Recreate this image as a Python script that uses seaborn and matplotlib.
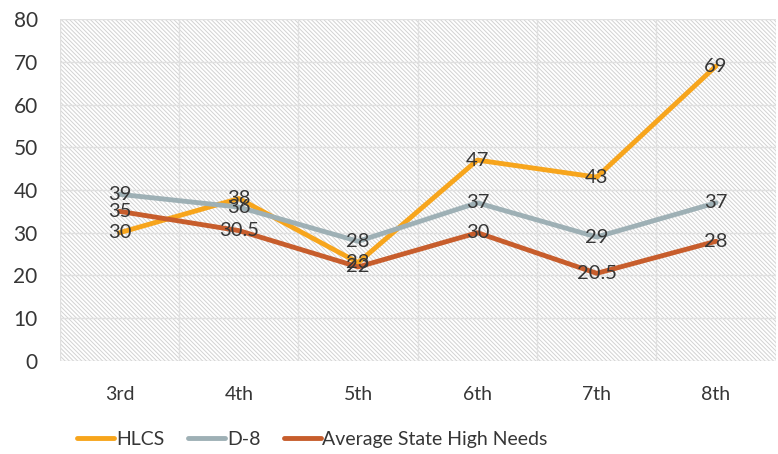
import matplotlib
matplotlib.use("Agg")
import matplotlib.pyplot as plt
from matplotlib.patches import Rectangle
import seaborn as sns
import pandas as pd

grades = ["3rd", "4th", "5th", "6th", "7th", "8th"]
hlcs = [30, 38, 23, 47, 43, 69]
d8 = [39, 36, 28, 37, 29, 37]
state_high_needs = [35, 30.5, 22, 30, 20.5, 28]

series_names = ["HLCS", "D-8", "Average State High Needs"]
colors = ["#F7A51C", "#9EB0B5", "#C75D2C"]

# long-form table for seaborn
rows = []
for name, vals in zip(series_names, [hlcs, d8, state_high_needs]):
    for g, v in zip(grades, vals):
        rows.append({"grade": g, "value": v, "series": name})
df = pd.DataFrame(rows)

sns.set_theme(style="white")
plt.rcParams["font.family"] = ["Lato", "DejaVu Sans"]
plt.rcParams["hatch.linewidth"] = 0.7
plt.rcParams["hatch.color"] = "#d2d2d2"

text_color = "#363636"

fig = plt.figure(figsize=(7.78, 4.54), dpi=100)
ax = fig.add_axes([0.077, 0.205, 0.92, 0.753])

# hatched plot background
ax.add_patch(Rectangle((0, 0), 1, 1, transform=ax.transAxes, facecolor="white",
                       edgecolor="#d2d2d2", hatch="\\" * 8, linewidth=0, zorder=0))

sns.lineplot(data=df, x="grade", y="value", hue="series", hue_order=series_names,
             palette=colors, linewidth=3.5, ax=ax, zorder=3, sort=False)

ax.set_xlim(-0.5, len(grades) - 0.5)
ax.set_ylim(0, 80)
ax.set_yticks(range(0, 81, 10))
ax.set_xticks(range(len(grades)))
ax.set_xticklabels(grades)

# grid: vertical at category boundaries, horizontal every 10
for i in range(len(grades) + 1):
    ax.axvline(i - 0.5, color="#e0e0e0", linewidth=1, zorder=1)
for y in range(10, 81, 10):
    ax.axhline(y, color="#e0e0e0", linewidth=1, zorder=1)

for s in ax.spines.values():
    s.set_visible(False)
ax.axhline(0, color="#d9d9d9", linewidth=1, zorder=2)

ax.tick_params(axis="both", length=0, colors=text_color)
ax.tick_params(axis="x", pad=18, labelsize=14)
ax.tick_params(axis="y", pad=16, labelsize=15)
ax.set_xlabel("")
ax.set_ylabel("")

# data labels centred on the points
for vals in [hlcs, d8, state_high_needs]:
    for i, v in enumerate(vals):
        lbl = f"{v:g}"
        ax.text(i, v, lbl, ha="center", va="center", fontsize=14.5,
                color=text_color, zorder=5)

handles, labels = ax.get_legend_handles_labels()
ax.legend(handles, labels, loc="center left", bbox_to_anchor=(0.0, -0.23),
          ncol=3, frameon=False, fontsize=14, handlelength=1.9,
          handletextpad=0.1, columnspacing=1.2, labelcolor=text_color)

fig.savefig("out.png", dpi=100)
